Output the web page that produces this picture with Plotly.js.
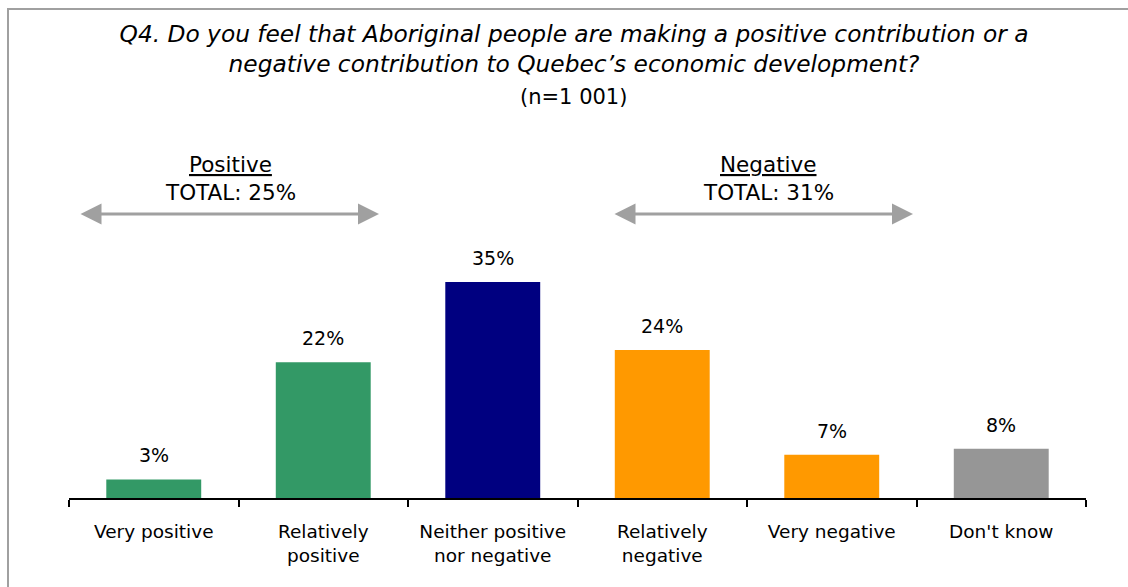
<!DOCTYPE html>
<html>
<head>
<meta charset="utf-8">
<script src="https://cdn.plot.ly/plotly-3.0.1.min.js"></script>
<style>html,body{margin:0;padding:0;background:#fff;}#chart{width:1128px;height:587px;}</style>
</head>
<body>
<div id="chart"></div>
<script>
const categories = ["Very positive", "Relatively positive", "Neither positive nor negative", "Relatively negative", "Very negative", "Don't know"];
const tickLabels = ["Very positive", "Relatively<br>positive", "Neither positive<br>nor negative", "Relatively<br>negative", "Very negative", "Don't know"];
const values = [3, 22, 35, 24, 7, 8];
const valueLabels = ["3%", "22%", "35%", "24%", "7%", "8%"];
const barColors = ["#339966", "#339966", "#000080", "#FF9900", "#FF9900", "#969696"];
const groupNames = ["Positive", "Negative"];
const groupTotals = ["TOTAL: 25%", "TOTAL: 31%"];

const FONT = "DejaVu Sans, Tahoma, sans-serif";
const L = 69, R = 1086, TOP = 140, BASE = 498, W = 1128, H = 587;
const px2x = p => (p - L) / (R - L);
const px2y = p => (BASE - p) / (BASE - TOP);

const annotations = [];
// value labels
categories.forEach((c, i) => {
  annotations.push({x: c, y: values[i], xref: 'x', yref: 'y', text: valueLabels[i], showarrow: false,
    xanchor: 'center', yanchor: 'middle', yshift: 24, font: {family: FONT, size: 19, color: '#000'}});
});
// group labels and arrows
const groupCenters = [230, 768];
const arrowSpans = [[79, 379], [613, 913]];
groupNames.forEach((g, i) => {
  annotations.push({x: px2x(groupCenters[i]), y: px2y(164), xref: 'paper', yref: 'paper', text: '<u>' + g + '</u>',
    showarrow: false, xanchor: 'center', yanchor: 'middle', font: {family: FONT, size: 21.5, color: '#000'}});
  annotations.push({x: px2x(groupCenters[i]), y: px2y(192), xref: 'paper', yref: 'paper', text: groupTotals[i],
    showarrow: false, xanchor: 'center', yanchor: 'middle', font: {family: FONT, size: 21.5, color: '#000'}});
  const s = arrowSpans[i];
  annotations.push({x: px2x(s[1]), y: px2y(214), xref: 'paper', yref: 'paper', text: '', showarrow: true,
    ax: -(s[1] - s[0]), ay: 0, arrowside: 'end+start', arrowhead: 2, startarrowhead: 2,
    arrowsize: 1.4, startarrowsize: 1.4, arrowwidth: 3, arrowcolor: '#A0A0A0'});
});
// subtitle
annotations.push({x: px2x(573), y: px2y(97), xref: 'paper', yref: 'paper', text: '(n=1 001)', showarrow: false,
  xanchor: 'center', yanchor: 'middle', font: {family: FONT, size: 21, color: '#000'}});

const data = [{
  type: 'bar', x: categories, y: values, marker: {color: barColors}, width: 0.56, hoverinfo: 'skip'
}];

const layout = {
  width: W, height: H,
  margin: {l: L, r: W - R, t: TOP, b: H - BASE},
  paper_bgcolor: '#fff', plot_bgcolor: '#fff',
  showlegend: false,
  title: {text: '<i>Q4. Do you feel that Aboriginal people are making a positive contribution or a<br>negative contribution to Quebec\u2019s economic development?</i>',
    x: px2x(574), xref: 'paper', xanchor: 'center', y: 1 - 42 / H, yref: 'container', yanchor: 'middle',
    font: {family: FONT, size: 23.3, color: '#000'}},
  xaxis: {type: 'category', tickvals: categories, ticktext: tickLabels, tickson: 'boundaries',
    ticks: 'outside', ticklen: 7, tickwidth: 2, tickcolor: '#000', showline: true, linecolor: '#000', linewidth: 2,
    ticklabelstandoff: 16,
    showgrid: false, zeroline: false, fixedrange: true, tickfont: {family: FONT, size: 18.5, color: '#000'}},
  yaxis: {range: [0, (BASE - TOP) / 6.171], visible: false, showgrid: false, zeroline: false, fixedrange: true},
  annotations: annotations,
  shapes: [{type: 'rect', xref: 'paper', yref: 'paper', x0: px2x(8), x1: px2x(1140), y0: px2y(600), y1: px2y(9),
    line: {color: '#A0A0A0', width: 2}, fillcolor: 'rgba(0,0,0,0)', layer: 'below'}]
};

Plotly.newPlot('chart', data, layout, {displayModeBar: false, staticPlot: true});
</script>
</body>
</html>
